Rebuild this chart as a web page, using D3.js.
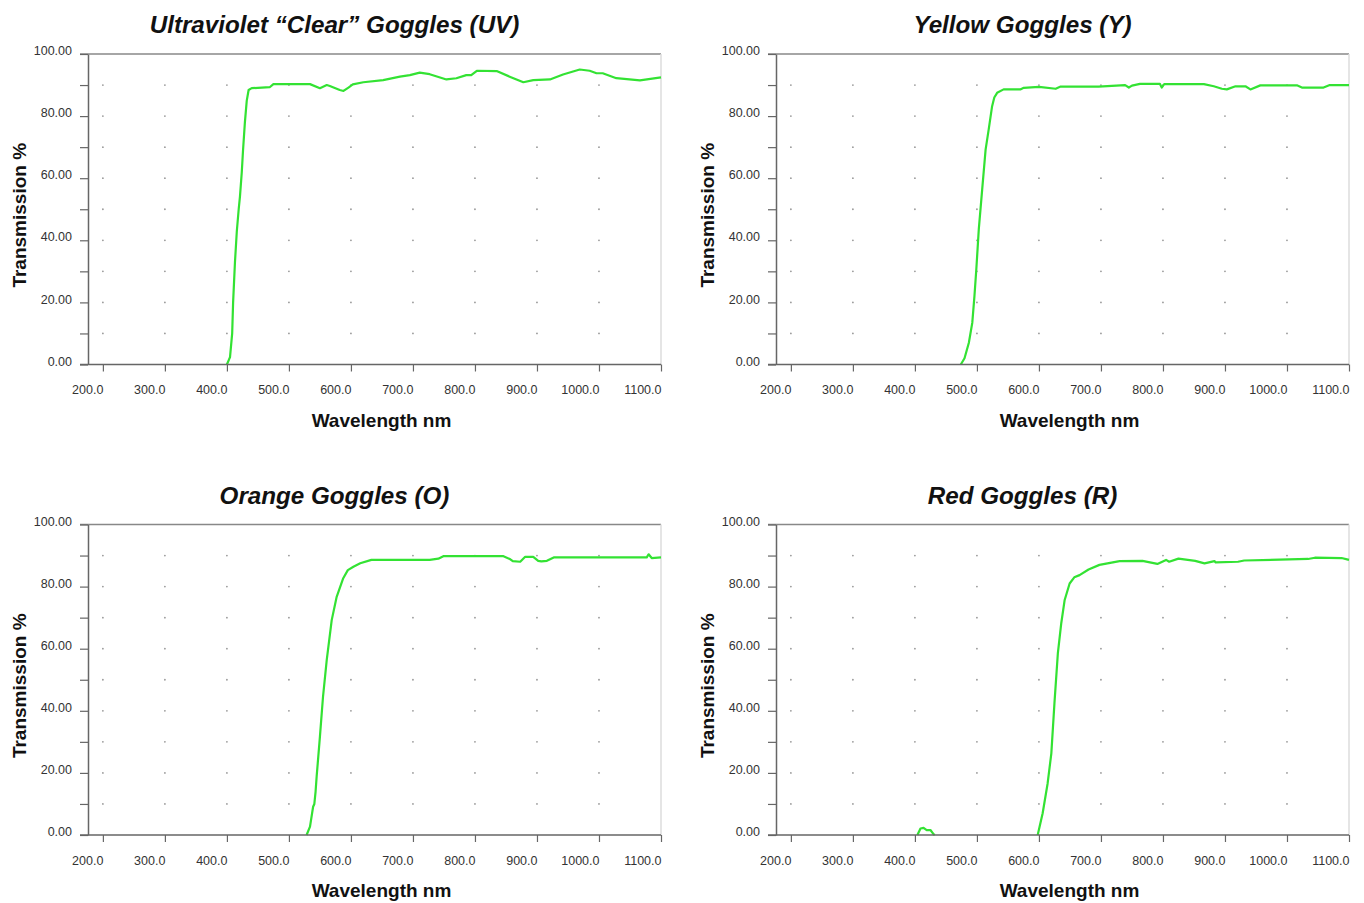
<!DOCTYPE html>
<html lang="en">
<head>
    <meta charset="UTF-8">
    <title>Goggles transmission</title>
    <script src="https://cdnjs.cloudflare.com/ajax/libs/d3/7.8.5/d3.min.js"></script>
    <style>
        body {
            margin: 0;
            background-color: #fff;
            font-family: "Liberation Sans", Arial, sans-serif;
        }
        .tick text { fill: #333; font-size: 12.5px; }
        .title { font-size: 24.2px; font-weight: bold; font-style: italic; fill: #111; }
        .axis-title { font-size: 19px; font-weight: bold; fill: #111; }
    </style>
</head>
<body>
    <div id="chart"></div>

    <script>
        // wavelength (nm), transmission (%)
        const uvCurve = [
            [400, 0], [405, 2.4], [408.5, 10], [410, 20], [413, 33], [416, 43], [419, 50],
            [421, 54], [424, 62], [426, 69], [429, 78], [432, 85], [435, 88.4], [440, 89],
            [469, 89.3], [475, 90.3], [534, 90.3], [550, 89], [561, 90], [566, 89.7],
            [582, 88.4], [588, 88.1], [596, 89.2], [603, 90.2], [620, 90.9], [652, 91.6],
            [679, 92.7], [695, 93.2], [711, 94], [727, 93.5], [754, 91.8], [770, 92.2],
            [786, 93.2], [794, 93.2], [803, 94.6], [835, 94.5], [856, 92.7], [878, 90.9],
            [894, 91.6], [921, 91.8], [942, 93.4], [969, 95], [985, 94.6], [996, 93.8],
            [1006, 93.8], [1028, 92.2], [1066, 91.5], [1100, 92.5]
        ];
        const yellowCurve = [
            [474, 0], [480, 2], [487, 7], [492.5, 13.4], [496, 22], [499, 30.6], [503, 43.5],
            [508.5, 56.4], [514, 69.2], [519, 75.7], [524.5, 83.2], [528, 86], [532.6, 87.5],
            [543, 88.6], [570, 88.6], [575.5, 89.1], [600, 89.4], [627, 88.8], [635, 89.5],
            [696, 89.5], [739, 90], [745, 89.2], [750, 89.8], [763, 90.4], [795, 90.4],
            [798, 89.2], [802, 90.3], [866, 90.3], [882, 89.6], [895, 88.8], [903, 88.6],
            [917, 89.6], [933, 89.6], [941, 88.6], [957, 89.9], [1016, 89.9], [1024, 89.2],
            [1059, 89.2], [1069, 90], [1100, 90]
        ];
        const orangeCurve = [
            [528.5, 0], [534, 2.7], [539, 9.1], [541, 10], [543, 14], [544.7, 18.8], [550, 31.7],
            [555, 44.6], [561, 56.4], [569, 69.2], [577, 76.7], [587.6, 82.7], [595, 85.3],
            [604, 86.4], [615, 87.5], [633, 88.6], [727, 88.6], [741, 89], [749, 89.8],
            [846, 89.8], [857, 88.8], [861, 88.2], [873, 88], [881, 89.6], [894, 89.6],
            [902, 88.3], [907, 88.1], [916, 88.3], [927, 89.4], [1077, 89.4], [1080, 90.4],
            [1085, 89.2], [1100, 89.4]
        ];
        // null marks the stretch lying on the 0 % axis
        const redCurve = [
            [404, 0], [409, 2.1], [414, 2.3], [419, 1.6], [425, 1.6], [430, 0.3], [432, 0],
            [500, null],
            [598, 0], [606, 7], [614, 16.6], [620, 26.3], [625, 42.4], [630.5, 58.5],
            [636, 68.2], [641.5, 75.7], [649.5, 81], [657, 83], [665.5, 83.7], [680, 85.5],
            [697.6, 87], [730, 88.2], [767, 88.3], [791, 87.3], [805, 88.6], [810, 88],
            [825, 89], [852, 88.3], [867, 87.5], [883, 88.2], [885, 87.8], [921, 88],
            [931, 88.4], [1034, 88.9], [1045, 89.3], [1088, 89.2], [1100, 88.6]
        ];

        const titles = [
            "Ultraviolet \u201CClear\u201D Goggles (UV)",
            "Yellow Goggles (Y)",
            "Orange Goggles (O)",
            "Red Goggles (R)"
        ];
        const curves = [uvCurve, yellowCurve, orangeCurve, redCurve];
        const xTicks = d3.range(200, 1101, 100);
        const yTicks = d3.range(0, 101, 10);
        const yLabels = [0, 20, 40, 60, 80, 100];
        const xLabel = "Wavelength nm";
        const yLabel = "Transmission %";

        const width = 1364, height = 903;
        const plotW = 573, plotH = 310.5;
        const origins = [[88, 54], [776, 54], [88, 524.5], [776, 524.5]];

        const svg = d3.select("#chart").append("svg")
            .attr("width", width)
            .attr("height", height);

        const x = d3.scaleLinear().domain([176, 1100]).range([0, plotW]);
        const y = d3.scaleLinear().domain([0, 100]).range([plotH, 0]);

        const line = d3.line()
            .defined(d => d[1] != null)
            .x(d => x(d[0]))
            .y(d => y(d[1]));

        curves.forEach((data, i) => {
            const g = svg.append("g")
                .attr("transform", `translate(${origins[i][0]},${origins[i][1]})`);

            // grid dots
            const dots = [];
            xTicks.filter(t => t < 1100).forEach(xt =>
                yTicks.filter(t => t > 0 && t < 100).forEach(yt => dots.push([xt, yt])));
            g.selectAll(".dot").data(dots).enter().append("circle")
                .attr("cx", d => x(d[0]))
                .attr("cy", d => y(d[1]))
                .attr("r", 0.9)
                .attr("fill", "#999");

            // frame: top and right
            g.append("line")
                .attr("x1", -8).attr("x2", plotW)
                .attr("y1", 0).attr("y2", 0)
                .attr("stroke", "#888").attr("stroke-width", 1.5);
            g.append("line")
                .attr("x1", plotW).attr("x2", plotW)
                .attr("y1", 0).attr("y2", plotH)
                .attr("stroke", "#ddd").attr("stroke-width", 1.5);

            // curve
            g.append("path")
                .datum(data)
                .attr("d", line)
                .attr("fill", "none")
                .attr("stroke", "#33e233")
                .attr("stroke-width", 2.2)
                .attr("stroke-linejoin", "round");

            // y axis
            const yAxis = g.append("g")
                .call(d3.axisLeft(y).tickValues(yTicks).tickSize(8).tickSizeOuter(0)
                    .tickFormat(d => yLabels.includes(d) ? d3.format(".2f")(d) : ""));
            yAxis.select(".domain").attr("stroke", "#666").attr("stroke-width", 1.5);
            yAxis.selectAll(".tick line").attr("stroke", "#666").attr("stroke-width", 1.2);
            yAxis.selectAll(".tick text").attr("x", -16).attr("dy", "0.05em");

            // x axis
            const xAxis = g.append("g")
                .attr("transform", `translate(0,${plotH})`)
                .call(d3.axisBottom(x).tickValues(xTicks).tickSize(7).tickSizeOuter(0)
                    .tickFormat(d3.format(".1f")));
            xAxis.select(".domain").remove();
            xAxis.append("line")
                .attr("x1", -8).attr("x2", plotW)
                .attr("stroke", "#666").attr("stroke-width", 1.5);
            xAxis.selectAll(".tick line").attr("stroke", "#666").attr("stroke-width", 1.2);
            xAxis.selectAll(".tick text")
                .attr("text-anchor", "end")
                .attr("y", 21);

            // titles
            g.append("text")
                .attr("class", "title")
                .attr("x", plotW / 2 - 40)
                .attr("y", -21)
                .attr("text-anchor", "middle")
                .text(titles[i]);
            g.append("text")
                .attr("class", "axis-title")
                .attr("x", plotW / 2 + 7)
                .attr("y", plotH + 62)
                .attr("text-anchor", "middle")
                .text(xLabel);
            g.append("text")
                .attr("class", "axis-title")
                .attr("transform", `translate(${-62},${plotH / 2 + 6}) rotate(-90)`)
                .attr("text-anchor", "middle")
                .text(yLabel);
        });
    </script>
</body>
</html>
